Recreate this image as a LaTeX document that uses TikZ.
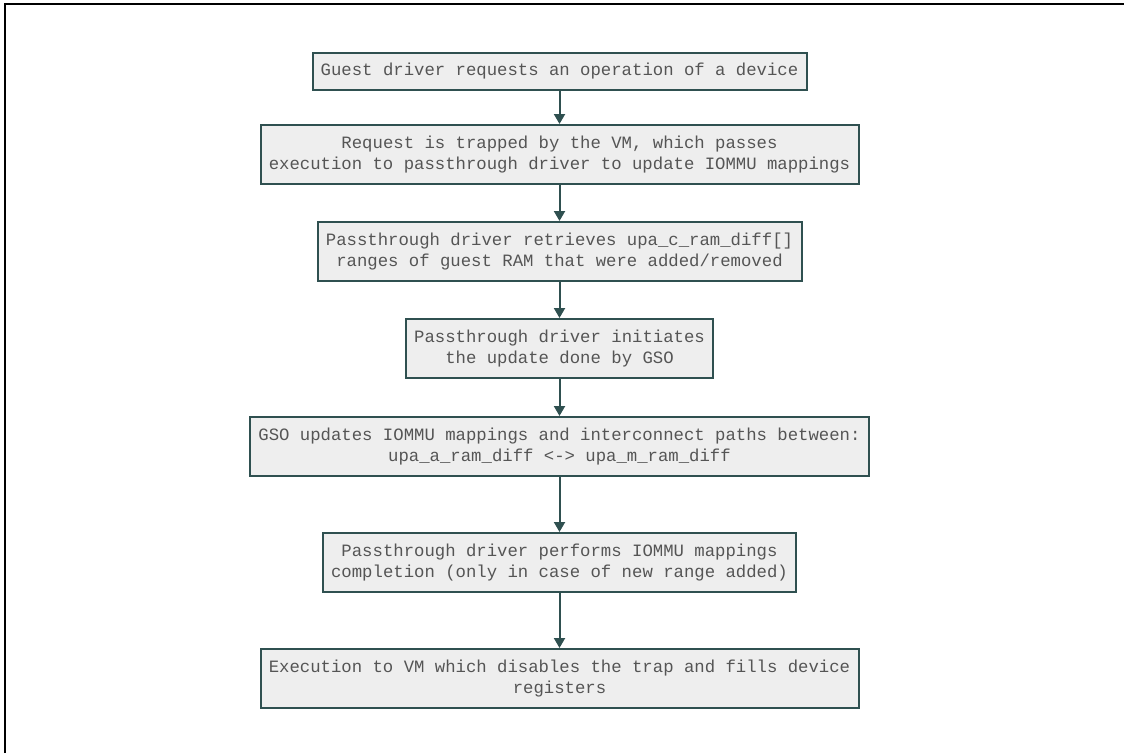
\documentclass[tikz,border=0pt]{standalone}
\usepackage{fontspec}
\setmonofont{Liberation Mono}
\usetikzlibrary{arrows.meta, positioning}
\definecolor{flowEdge}{HTML}{2F5050}
\definecolor{flowFill}{HTML}{EEEEEE}
\definecolor{flowText}{HTML}{555555}
\tikzset{
  stepbox/.style  = {draw=flowEdge, fill=flowFill, line width=2pt, align=center,
                     text=flowText, inner sep=4pt, minimum height=59pt,
                     font=\ttfamily\fontsize{17.3}{21}\selectfont},
  flowarrow/.style = {flowEdge, line width=2pt, -{Triangle[length=10pt, width=11pt]}},
  frameline/.style = {black, line width=1.6pt},
}

\begin{document}
\begin{tikzpicture}[x=1pt, y=-1pt]
  \useasboundingbox (0,0) rectangle (1124,753);
  % frame edges that show in the reference
  \draw[frameline] (5,753) -- (5,4) -- (1124,4);
  % the flow, top to bottom
  \node[stepbox, minimum width=494pt, minimum height=37pt, anchor=north] (guest) at (559.5,52)
    {Guest driver requests an operation of a device};
  \node[stepbox, minimum width=598pt, below=33pt of guest] (trap)
    {Request is trapped by the VM, which passes\\execution to passthrough driver to update IOMMU mappings};
  \node[stepbox, minimum width=484pt, below=36pt of trap] (retrieve)
    {Passthrough driver retrieves upa\_c\_ram\_diff[]\\ranges of guest RAM that were added/removed};
  \node[stepbox, minimum width=307pt, below=36pt of retrieve] (initiate)
    {Passthrough driver initiates\\the update done by GSO};
  \node[stepbox, minimum width=619pt, below=37pt of initiate] (gso)
    {GSO updates IOMMU mappings and interconnect paths between:\\upa\_a\_ram\_diff <-> upa\_m\_ram\_diff};
  \node[stepbox, minimum width=473pt, below=55pt of gso] (complete)
    {Passthrough driver performs IOMMU mappings\\completion (only in case of new range added)};
  \node[stepbox, minimum width=598pt, below=55pt of complete] (exec)
    {Execution to VM which disables the trap and fills device\\registers};
  % connectors
  \draw[flowarrow] (guest) -- (trap);
  \draw[flowarrow] (trap) -- (retrieve);
  \draw[flowarrow] (retrieve) -- (initiate);
  \draw[flowarrow] (initiate) -- (gso);
  \draw[flowarrow] (gso) -- (complete);
  \draw[flowarrow] (complete) -- (exec);
\end{tikzpicture}
\end{document}
